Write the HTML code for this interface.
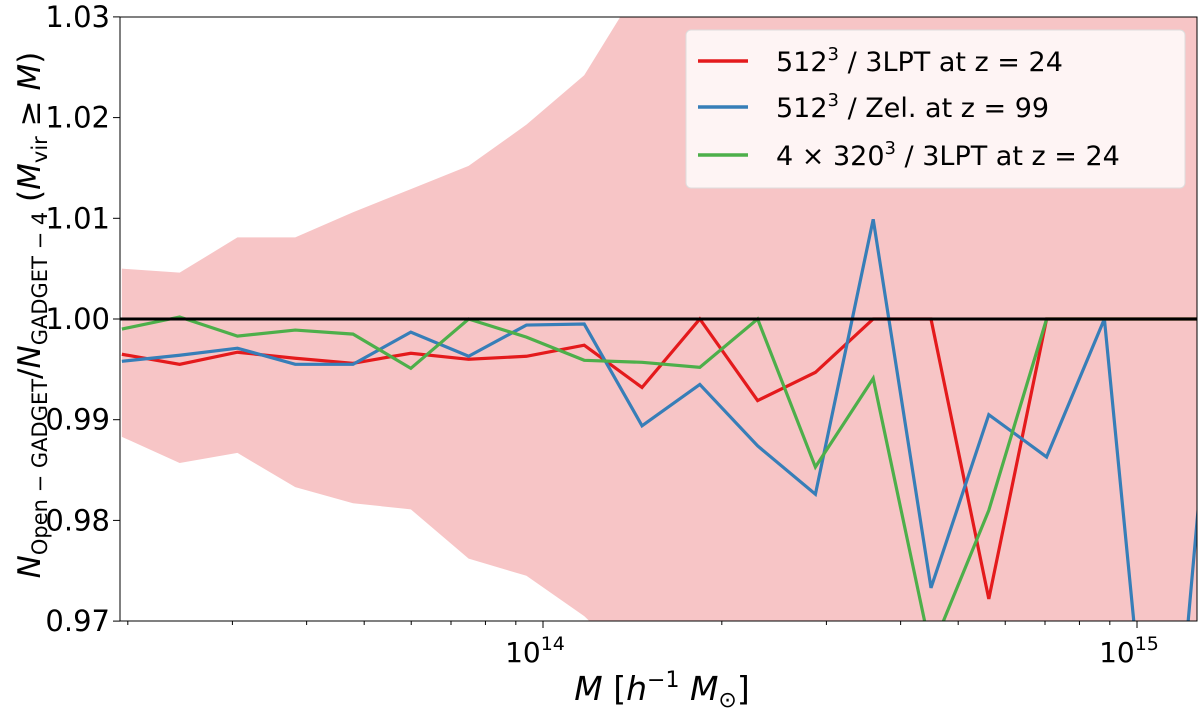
<!DOCTYPE html>
<html><head><meta charset="utf-8"><style>
html,body{margin:0;background:#fff;overflow:hidden;width:1200px;height:709px;}
svg{display:block;}
svg text{font-family:"DejaVu Sans","Liberation Sans",sans-serif;fill:#000;}
</style></head><body>
<svg id="chart" width="1200" height="709" xmlns="http://www.w3.org/2000/svg">
<defs><clipPath id="clip"><rect x="120" y="17" width="1077" height="604"/></clipPath></defs>
<g id="band" clip-path="url(#clip)"></g>
<g id="series" clip-path="url(#clip)"></g>
<line x1="120" x2="1197" y1="319" y2="319" stroke="#000" stroke-width="3"/>
<rect x="120" y="17" width="1077" height="604" fill="none" stroke="#000" stroke-width="1"/>
<g id="xticks"></g><g id="yticks"></g>
<text x="662" y="700" font-size="33" text-anchor="middle" font-style="italic">M <tspan font-style="normal">[</tspan>h<tspan font-size="22" dy="-13" font-style="normal">−1</tspan><tspan dy="13"> M</tspan><tspan font-size="22" dy="7" font-style="normal">⊙</tspan><tspan dy="-7" font-style="normal">]</tspan></text>
<text transform="translate(40,315) rotate(-90)" font-size="31" text-anchor="middle"><tspan font-style="italic">N</tspan><tspan font-size="21" dy="7">Open − GADGET</tspan><tspan dy="-7">/</tspan><tspan font-style="italic">N</tspan><tspan font-size="21" dy="7">GADGET − 4</tspan><tspan dy="-7"> (</tspan><tspan font-style="italic">M</tspan><tspan font-size="21" dy="7">vir</tspan><tspan dy="-7"> ≥ </tspan><tspan font-style="italic">M</tspan>)</text>
<g>
<rect x="686" y="30" width="499" height="158" rx="5" fill="#fff" fill-opacity="0.8" stroke="#ddd"/>
<line x1="698" x2="748" y1="61" y2="61" stroke="#e41a1c" stroke-width="3.5"/>
<text x="776" y="71" font-size="27">512<tspan font-size="18" dy="-11">3</tspan><tspan dy="11"> / 3LPT at z = 24</tspan></text>
<line x1="698" x2="748" y1="107" y2="107" stroke="#377eb8" stroke-width="3.5"/>
<text x="776" y="117" font-size="27">512<tspan font-size="18" dy="-11">3</tspan><tspan dy="11"> / Zel.  at z = 99</tspan></text>
<line x1="698" x2="748" y1="155" y2="155" stroke="#4daf4a" stroke-width="3.5"/>
<text x="776" y="165" font-size="27">4 × 320<tspan font-size="18" dy="-11">3</tspan><tspan dy="11"> / 3LPT at z = 24</tspan></text>
</g>
</svg>
<script>
const logM0 = 13.291, logStep = 0.0973;
const red = [0.9965,0.9955,0.9967,0.9961,0.9956,0.9966,0.9960,0.9963,0.9974,0.9932,1.0,0.9919,0.9947,1.0,1.0,0.9722,1.0,1.0,1.0,1.0];
const blue = [0.9958,0.9964,0.9971,0.9955,0.9955,0.9987,0.9963,0.9994,0.9995,0.9894,0.9935,0.9874,0.9826,1.0099,0.9733,0.9905,0.9863,1.0,0.941,1.0055];
const green = [0.9990,1.0002,0.9983,0.9989,0.9985,0.9951,1.0,0.9982,0.9959,0.9957,0.9952,1.0,0.9853,0.9941,0.967,0.9810,1.0,1.0,1.0,1.0];
const bandUpper = [1.005,1.0046,1.0081,1.0081,1.0106,1.0129,1.0152,1.0193,1.0242,1.0335,1.045,1.06,1.075,1.09,1.1,1.1,1.1,1.1,1.1,1.1];
const bandLower = [0.9883,0.9857,0.9867,0.9833,0.9817,0.9811,0.9762,0.9745,0.9705,0.965,0.955,0.94,0.92,0.9,0.9,0.9,0.9,0.9,0.9,0.9];
const yTicks = [0.97,0.98,0.99,1.00,1.01,1.02,1.03];
const xMajor = [14,15];
const NS="http://www.w3.org/2000/svg";
const X=l=>543+(l-14)*594;
const Y=v=>319-(v-1)*10070;
const lm=i=>logM0+i*logStep;
function el(t,a,p){const e=document.createElementNS(NS,t);for(const k in a)e.setAttribute(k,a[k]);p.appendChild(e);return e;}
const up=bandUpper.map((v,i)=>X(lm(i))+','+Y(v));
const lo=bandLower.map((v,i)=>X(lm(i))+','+Y(v)).reverse();
const bp=el('polygon',{points:up.concat(lo).join(' '),fill:'#f7c5c6'},document.getElementById('band'));


const sg=document.getElementById('series');
[[red,'#e41a1c','red-3lpt-line'],[blue,'#377eb8','blue-zel-line'],[green,'#4daf4a','green-4x320-line']].forEach(([d,c,n])=>{
 const p=el('polyline',{points:d.map((v,i)=>X(lm(i))+','+Y(v)).join(' '),fill:'none',stroke:c,'stroke-width':3.2},sg);
 
 
});
const yt=document.getElementById('yticks');
yTicks.forEach(v=>{
 el('line',{x1:113,x2:120,y1:Y(v),y2:Y(v),stroke:'#000'},yt);
 const t=el('text',{x:110,y:Y(v)+10,'font-size':29,'text-anchor':'end'},yt);
 
 
 t.textContent=v.toFixed(2);
});
const xt=document.getElementById('xticks');
for(let d=13;d<=15;d++)for(let m=1;m<10;m++){
 const l=d+Math.log10(m);const x=X(l);
 if(x<120||x>1197)continue;
 el('line',{x1:x,x2:x,y1:621,y2:m==1?628:625,stroke:'#000'},xt);
}
xMajor.forEach(e=>{
 const t=el('text',{x:X(e)-8,y:662,'font-size':28,'text-anchor':'middle'},xt);
 
 
 t.innerHTML='10<tspan font-size="19" dy="-12">'+e+'</tspan>';
});
</script>
</body></html>
